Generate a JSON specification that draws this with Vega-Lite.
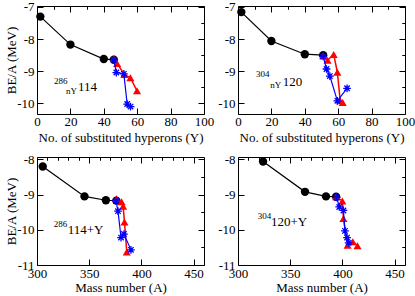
{
  "$schema": "https://vega.github.io/schema/vega-lite/v6.json",
  "padding": {"left": 5, "top": 0, "right": 0, "bottom": 0},
  "background": "white",
  "config": {
    "font": "Liberation Serif",
    "view": {"stroke": "black", "strokeWidth": 1},
    "axis": {"grid": false, "domain": false, "tickColor": "black", "tickSize": 6, "offset": -6, "tickWidth": 1,
      "labelFont": "Liberation Serif", "labelFontSize": 13, "labelColor": "black",
      "titleFont": "Liberation Serif", "titleFontSize": 13, "titleFontWeight": "normal", "titleColor": "black",
      "minExtent": 0, "labelFlush": false, "labelOverlap": false, "labelPadding": 3},
    "axisX": {"minExtent": 0, "labelPadding": 1, "titlePadding": 3},
    "axisY": {"minExtent": 0, "labelPadding": 3, "titlePadding": -2}
  },
  "datasets": {
    "tl": [
      {"s": "black", "i": 1, "x": 2, "y": -7.3},
      {"s": "black", "i": 2, "x": 20, "y": -8.17},
      {"s": "black", "i": 3, "x": 40, "y": -8.62},
      {"s": "black", "i": 4, "x": 46, "y": -8.64},
      {"s": "red", "i": 1, "x": 46, "y": -8.6},
      {"s": "red", "i": 2, "x": 48, "y": -8.76},
      {"s": "red", "i": 3, "x": 52.3, "y": -9.1},
      {"s": "red", "i": 4, "x": 55.9, "y": -9.2},
      {"s": "red", "i": 5, "x": 59.9, "y": -9.61},
      {"s": "blue", "i": 1, "x": 46, "y": -8.65},
      {"s": "blue", "i": 2, "x": 47.5, "y": -9.04},
      {"s": "blue", "i": 3, "x": 52, "y": -9.08},
      {"s": "blue", "i": 4, "x": 54, "y": -10.02},
      {"s": "blue", "i": 5, "x": 56, "y": -10.1}
    ],
    "tr": [
      {"s": "black", "i": 1, "x": 2, "y": -7.16},
      {"s": "black", "i": 2, "x": 20, "y": -8.06},
      {"s": "black", "i": 3, "x": 40, "y": -8.47},
      {"s": "black", "i": 4, "x": 51, "y": -8.5},
      {"s": "red", "i": 1, "x": 51, "y": -8.52},
      {"s": "red", "i": 2, "x": 53.6, "y": -8.66},
      {"s": "red", "i": 3, "x": 57.3, "y": -8.48},
      {"s": "red", "i": 4, "x": 59.5, "y": -9.03},
      {"s": "red", "i": 5, "x": 61.2, "y": -9.92},
      {"s": "red", "i": 6, "x": 62.7, "y": -9.97},
      {"s": "blue", "i": 1, "x": 51, "y": -8.54},
      {"s": "blue", "i": 2, "x": 53, "y": -8.93},
      {"s": "blue", "i": 3, "x": 55, "y": -9.15},
      {"s": "blue", "i": 4, "x": 59.5, "y": -9.92},
      {"s": "blue", "i": 5, "x": 65.3, "y": -9.53}
    ],
    "bl": [
      {"s": "black", "i": 1, "x": 305.5, "y": -8.2},
      {"s": "black", "i": 2, "x": 345.5, "y": -9.05},
      {"s": "black", "i": 3, "x": 366, "y": -9.16},
      {"s": "black", "i": 4, "x": 376, "y": -9.17},
      {"s": "red", "i": 1, "x": 376, "y": -9.12},
      {"s": "red", "i": 2, "x": 381, "y": -9.2},
      {"s": "red", "i": 3, "x": 382.5, "y": -9.33},
      {"s": "red", "i": 4, "x": 383.8, "y": -9.78},
      {"s": "red", "i": 5, "x": 386, "y": -10.63},
      {"s": "blue", "i": 1, "x": 375.7, "y": -9.18},
      {"s": "blue", "i": 2, "x": 377.6, "y": -9.47},
      {"s": "blue", "i": 3, "x": 380.5, "y": -10.22},
      {"s": "blue", "i": 4, "x": 383.3, "y": -10.12},
      {"s": "blue", "i": 5, "x": 390, "y": -10.57}
    ],
    "br": [
      {"s": "black", "i": 1, "x": 324, "y": -8.06},
      {"s": "black", "i": 2, "x": 364.2, "y": -8.92},
      {"s": "black", "i": 3, "x": 384.3, "y": -9.05},
      {"s": "black", "i": 4, "x": 394, "y": -9.06},
      {"s": "red", "i": 1, "x": 394, "y": -9.06},
      {"s": "red", "i": 2, "x": 400, "y": -9.18},
      {"s": "red", "i": 3, "x": 401, "y": -9.68},
      {"s": "red", "i": 4, "x": 405, "y": -10.44},
      {"s": "red", "i": 5, "x": 410, "y": -10.34},
      {"s": "red", "i": 6, "x": 414.5, "y": -10.45},
      {"s": "blue", "i": 1, "x": 394.5, "y": -9.08},
      {"s": "blue", "i": 2, "x": 397, "y": -9.35},
      {"s": "blue", "i": 3, "x": 401, "y": -9.45},
      {"s": "blue", "i": 4, "x": 402.5, "y": -10.03},
      {"s": "blue", "i": 5, "x": 404.5, "y": -10.22},
      {"s": "blue", "i": 6, "x": 406, "y": -10.37}
    ],
    "notes": [
      {"p": "tl", "k": "big", "t": "114", "x": 24.6, "y": -9.61},
      {"p": "tl", "k": "small", "t": "286", "x": 10.2, "y": -9.4},
      {"p": "tl", "k": "small", "t": "nY", "x": 17.4, "y": -9.71},
      {"p": "tr", "k": "big", "t": "120", "x": 26.8, "y": -9.46},
      {"p": "tr", "k": "small", "t": "304", "x": 10.8, "y": -9.18},
      {"p": "tr", "k": "small", "t": "nY", "x": 19.3, "y": -9.52},
      {"p": "bl", "k": "big", "t": "114+Y", "x": 329.4, "y": -10.12},
      {"p": "bl", "k": "small", "t": "286", "x": 316, "y": -9.93},
      {"p": "br", "k": "big", "t": "120+Y", "x": 331.6, "y": -9.9},
      {"p": "br", "k": "small", "t": "304", "x": 318.9, "y": -9.69}
    ]
  },
  "columns": 2,
  "spacing": {"row": 43, "column": 34},
  "bounds": "flush",
  "concat": [
    {
      "width": 167, "height": 108,
      "data": {"name": "tl"},
      "encoding": {
        "x": {"field": "x", "type": "quantitative", "scale": {"domain": [0, 100], "nice": false, "zero": false}, "axis": null},
        "y": {"field": "y", "type": "quantitative", "scale": {"domain": [-10.33, -6.97], "nice": false, "zero": false}, "axis": null}
      },
      "layer": [
        {"mark": {"type": "point", "opacity": 0}, "encoding": {
          "x": {"field": "x", "type": "quantitative", "scale": {"domain": [0, 100], "nice": false, "zero": false}, "axis": {"values": [0, 20, 40, 60, 80, 100], "title": "No. of substituted hyperons (Y)"}},
          "y": {"field": "y", "type": "quantitative", "scale": {"domain": [-10.33, -6.97], "nice": false, "zero": false}, "axis": {"values": [-10, -9, -8, -7], "title": "BE/A (MeV)", "labelExpr": "replace(datum.label, '−', '-')"}}}},
        {"mark": {"type": "point", "opacity": 0}, "encoding": {
          "x": {"field": "x", "type": "quantitative", "scale": {"domain": [0, 100], "nice": false, "zero": false}, "axis": {"values": [10, 30, 50, 70, 90], "labels": false, "tickSize": 3, "offset": -3, "title": null}},
          "y": {"field": "y", "type": "quantitative", "scale": {"domain": [-10.33, -6.97], "nice": false, "zero": false}, "axis": {"values": [-9.5, -8.5, -7.5], "labels": false, "tickSize": 3, "offset": -3, "title": null}}}},
        {"mark": {"type": "point", "opacity": 0}, "encoding": {
          "x": {"field": "x", "type": "quantitative", "scale": {"domain": [0, 100], "nice": false, "zero": false}, "axis": {"orient": "top", "values": [0, 20, 40, 60, 80, 100], "labels": false, "title": null}},
          "y": {"field": "y", "type": "quantitative", "scale": {"domain": [-10.33, -6.97], "nice": false, "zero": false}, "axis": {"orient": "right", "values": [-10, -9, -8, -7], "labels": false, "title": null}}}},
        {"mark": {"type": "point", "opacity": 0}, "encoding": {
          "x": {"field": "x", "type": "quantitative", "scale": {"domain": [0, 100], "nice": false, "zero": false}, "axis": {"orient": "top", "values": [10, 30, 50, 70, 90], "labels": false, "tickSize": 3, "offset": -3, "title": null}},
          "y": {"field": "y", "type": "quantitative", "scale": {"domain": [-10.33, -6.97], "nice": false, "zero": false}, "axis": {"orient": "right", "values": [-9.5, -8.5, -7.5], "labels": false, "tickSize": 3, "offset": -3, "title": null}}}},
        {"transform": [{"filter": "datum.s === 'black'"}], "mark": {"type": "line", "color": "black", "strokeWidth": 1.2}, "encoding": {"order": {"field": "i", "type": "quantitative"}}},
        {"transform": [{"filter": "datum.s === 'black'"}], "mark": {"type": "circle", "color": "black", "size": 70, "opacity": 1}},
        {"transform": [{"filter": "datum.s === 'red'"}], "mark": {"type": "line", "color": "#ff0000", "strokeWidth": 1.5}, "encoding": {"order": {"field": "i", "type": "quantitative"}}},
        {"transform": [{"filter": "datum.s === 'red'"}], "mark": {"type": "point", "shape": "triangle-up", "filled": true, "color": "#ff0000", "size": 65, "opacity": 1}},
        {"transform": [{"filter": "datum.s === 'blue'"}], "mark": {"type": "line", "color": "#0000ff", "strokeWidth": 1.2}, "encoding": {"order": {"field": "i", "type": "quantitative"}}},
        {"transform": [{"filter": "datum.s === 'blue'"}], "mark": {"type": "point", "shape": "M-1,0L1,0M0,-1L0,1M-0.7,-0.7L0.7,0.7M-0.7,0.7L0.7,-0.7", "filled": false, "color": "#0000ff", "strokeWidth": 1.3, "size": 60, "opacity": 1}},
        {"data": {"name": "notes"}, "transform": [{"filter": "datum.p === 'tl' && datum.k === 'big'"}], "mark": {"type": "text", "align": "left", "baseline": "alphabetic", "fontSize": 13, "color": "black", "font": "Liberation Serif"}, "encoding": {"text": {"field": "t"}}},
        {"data": {"name": "notes"}, "transform": [{"filter": "datum.p === 'tl' && datum.k === 'small'"}], "mark": {"type": "text", "align": "left", "baseline": "alphabetic", "fontSize": 9, "color": "black", "font": "Liberation Serif"}, "encoding": {"text": {"field": "t"}}}
      ],
      "resolve": {"axis": {"x": "independent", "y": "independent"}}
    },
    {
      "width": 167, "height": 108,
      "data": {"name": "tr"},
      "encoding": {
        "x": {"field": "x", "type": "quantitative", "scale": {"domain": [0, 100], "nice": false, "zero": false}, "axis": null},
        "y": {"field": "y", "type": "quantitative", "scale": {"domain": [-10.33, -6.97], "nice": false, "zero": false}, "axis": null}
      },
      "layer": [
        {"mark": {"type": "point", "opacity": 0}, "encoding": {
          "x": {"field": "x", "type": "quantitative", "scale": {"domain": [0, 100], "nice": false, "zero": false}, "axis": {"values": [0, 20, 40, 60, 80, 100], "title": "No. of substituted hyperons (Y)"}},
          "y": {"field": "y", "type": "quantitative", "scale": {"domain": [-10.33, -6.97], "nice": false, "zero": false}, "axis": {"values": [-10, -9, -8, -7], "title": null, "labelExpr": "replace(datum.label, '−', '-')"}}}},
        {"mark": {"type": "point", "opacity": 0}, "encoding": {
          "x": {"field": "x", "type": "quantitative", "scale": {"domain": [0, 100], "nice": false, "zero": false}, "axis": {"values": [10, 30, 50, 70, 90], "labels": false, "tickSize": 3, "offset": -3, "title": null}},
          "y": {"field": "y", "type": "quantitative", "scale": {"domain": [-10.33, -6.97], "nice": false, "zero": false}, "axis": {"values": [-9.5, -8.5, -7.5], "labels": false, "tickSize": 3, "offset": -3, "title": null}}}},
        {"mark": {"type": "point", "opacity": 0}, "encoding": {
          "x": {"field": "x", "type": "quantitative", "scale": {"domain": [0, 100], "nice": false, "zero": false}, "axis": {"orient": "top", "values": [0, 20, 40, 60, 80, 100], "labels": false, "title": null}},
          "y": {"field": "y", "type": "quantitative", "scale": {"domain": [-10.33, -6.97], "nice": false, "zero": false}, "axis": {"orient": "right", "values": [-10, -9, -8, -7], "labels": false, "title": null}}}},
        {"mark": {"type": "point", "opacity": 0}, "encoding": {
          "x": {"field": "x", "type": "quantitative", "scale": {"domain": [0, 100], "nice": false, "zero": false}, "axis": {"orient": "top", "values": [10, 30, 50, 70, 90], "labels": false, "tickSize": 3, "offset": -3, "title": null}},
          "y": {"field": "y", "type": "quantitative", "scale": {"domain": [-10.33, -6.97], "nice": false, "zero": false}, "axis": {"orient": "right", "values": [-9.5, -8.5, -7.5], "labels": false, "tickSize": 3, "offset": -3, "title": null}}}},
        {"transform": [{"filter": "datum.s === 'black'"}], "mark": {"type": "line", "color": "black", "strokeWidth": 1.2}, "encoding": {"order": {"field": "i", "type": "quantitative"}}},
        {"transform": [{"filter": "datum.s === 'black'"}], "mark": {"type": "circle", "color": "black", "size": 70, "opacity": 1}},
        {"transform": [{"filter": "datum.s === 'red'"}], "mark": {"type": "line", "color": "#ff0000", "strokeWidth": 1.5}, "encoding": {"order": {"field": "i", "type": "quantitative"}}},
        {"transform": [{"filter": "datum.s === 'red'"}], "mark": {"type": "point", "shape": "triangle-up", "filled": true, "color": "#ff0000", "size": 65, "opacity": 1}},
        {"transform": [{"filter": "datum.s === 'blue'"}], "mark": {"type": "line", "color": "#0000ff", "strokeWidth": 1.2}, "encoding": {"order": {"field": "i", "type": "quantitative"}}},
        {"transform": [{"filter": "datum.s === 'blue'"}], "mark": {"type": "point", "shape": "M-1,0L1,0M0,-1L0,1M-0.7,-0.7L0.7,0.7M-0.7,0.7L0.7,-0.7", "filled": false, "color": "#0000ff", "strokeWidth": 1.3, "size": 60, "opacity": 1}},
        {"data": {"name": "notes"}, "transform": [{"filter": "datum.p === 'tr' && datum.k === 'big'"}], "mark": {"type": "text", "align": "left", "baseline": "alphabetic", "fontSize": 13, "color": "black", "font": "Liberation Serif"}, "encoding": {"text": {"field": "t"}}},
        {"data": {"name": "notes"}, "transform": [{"filter": "datum.p === 'tr' && datum.k === 'small'"}], "mark": {"type": "text", "align": "left", "baseline": "alphabetic", "fontSize": 9, "color": "black", "font": "Liberation Serif"}, "encoding": {"text": {"field": "t"}}}
      ],
      "resolve": {"axis": {"x": "independent", "y": "independent"}}
    },
    {
      "width": 167, "height": 108,
      "data": {"name": "bl"},
      "encoding": {
        "x": {"field": "x", "type": "quantitative", "scale": {"domain": [300, 460], "nice": false, "zero": false}, "axis": null},
        "y": {"field": "y", "type": "quantitative", "scale": {"domain": [-11, -7.93], "nice": false, "zero": false}, "axis": null}
      },
      "layer": [
        {"mark": {"type": "point", "opacity": 0}, "encoding": {
          "x": {"field": "x", "type": "quantitative", "scale": {"domain": [300, 460], "nice": false, "zero": false}, "axis": {"values": [300, 350, 400, 450], "title": "Mass number (A)", "labelPadding": 2, "titlePadding": 1.5}},
          "y": {"field": "y", "type": "quantitative", "scale": {"domain": [-11, -7.93], "nice": false, "zero": false}, "axis": {"values": [-11, -10, -9, -8], "title": "BE/A (MeV)", "labelExpr": "replace(datum.label, '−', '-')"}}}},
        {"mark": {"type": "point", "opacity": 0}, "encoding": {
          "x": {"field": "x", "type": "quantitative", "scale": {"domain": [300, 460], "nice": false, "zero": false}, "axis": {"values": [310, 320, 330, 340, 360, 370, 380, 390, 410, 420, 430, 440], "labels": false, "tickSize": 3, "offset": -3, "title": null}},
          "y": {"field": "y", "type": "quantitative", "scale": {"domain": [-11, -7.93], "nice": false, "zero": false}, "axis": {"values": [-10.5, -9.5, -8.5], "labels": false, "tickSize": 3, "offset": -3, "title": null}}}},
        {"mark": {"type": "point", "opacity": 0}, "encoding": {
          "x": {"field": "x", "type": "quantitative", "scale": {"domain": [300, 460], "nice": false, "zero": false}, "axis": {"orient": "top", "values": [300, 350, 400, 450], "labels": false, "title": null}},
          "y": {"field": "y", "type": "quantitative", "scale": {"domain": [-11, -7.93], "nice": false, "zero": false}, "axis": {"orient": "right", "values": [-11, -10, -9, -8], "labels": false, "title": null}}}},
        {"mark": {"type": "point", "opacity": 0}, "encoding": {
          "x": {"field": "x", "type": "quantitative", "scale": {"domain": [300, 460], "nice": false, "zero": false}, "axis": {"orient": "top", "values": [310, 320, 330, 340, 360, 370, 380, 390, 410, 420, 430, 440], "labels": false, "tickSize": 3, "offset": -3, "title": null}},
          "y": {"field": "y", "type": "quantitative", "scale": {"domain": [-11, -7.93], "nice": false, "zero": false}, "axis": {"orient": "right", "values": [-10.5, -9.5, -8.5], "labels": false, "tickSize": 3, "offset": -3, "title": null}}}},
        {"transform": [{"filter": "datum.s === 'black'"}], "mark": {"type": "line", "color": "black", "strokeWidth": 1.2}, "encoding": {"order": {"field": "i", "type": "quantitative"}}},
        {"transform": [{"filter": "datum.s === 'black'"}], "mark": {"type": "circle", "color": "black", "size": 70, "opacity": 1}},
        {"transform": [{"filter": "datum.s === 'red'"}], "mark": {"type": "line", "color": "#ff0000", "strokeWidth": 1.5}, "encoding": {"order": {"field": "i", "type": "quantitative"}}},
        {"transform": [{"filter": "datum.s === 'red'"}], "mark": {"type": "point", "shape": "triangle-up", "filled": true, "color": "#ff0000", "size": 65, "opacity": 1}},
        {"transform": [{"filter": "datum.s === 'blue'"}], "mark": {"type": "line", "color": "#0000ff", "strokeWidth": 1.2}, "encoding": {"order": {"field": "i", "type": "quantitative"}}},
        {"transform": [{"filter": "datum.s === 'blue'"}], "mark": {"type": "point", "shape": "M-1,0L1,0M0,-1L0,1M-0.7,-0.7L0.7,0.7M-0.7,0.7L0.7,-0.7", "filled": false, "color": "#0000ff", "strokeWidth": 1.3, "size": 60, "opacity": 1}},
        {"data": {"name": "notes"}, "transform": [{"filter": "datum.p === 'bl' && datum.k === 'big'"}], "mark": {"type": "text", "align": "left", "baseline": "alphabetic", "fontSize": 13, "color": "black", "font": "Liberation Serif"}, "encoding": {"text": {"field": "t"}}},
        {"data": {"name": "notes"}, "transform": [{"filter": "datum.p === 'bl' && datum.k === 'small'"}], "mark": {"type": "text", "align": "left", "baseline": "alphabetic", "fontSize": 9, "color": "black", "font": "Liberation Serif"}, "encoding": {"text": {"field": "t"}}}
      ],
      "resolve": {"axis": {"x": "independent", "y": "independent"}}
    },
    {
      "width": 167, "height": 108,
      "data": {"name": "br"},
      "encoding": {
        "x": {"field": "x", "type": "quantitative", "scale": {"domain": [300, 460], "nice": false, "zero": false}, "axis": null},
        "y": {"field": "y", "type": "quantitative", "scale": {"domain": [-11, -7.93], "nice": false, "zero": false}, "axis": null}
      },
      "layer": [
        {"mark": {"type": "point", "opacity": 0}, "encoding": {
          "x": {"field": "x", "type": "quantitative", "scale": {"domain": [300, 460], "nice": false, "zero": false}, "axis": {"values": [300, 350, 400, 450], "title": "Mass number (A)", "labelPadding": 2, "titlePadding": 1.5}},
          "y": {"field": "y", "type": "quantitative", "scale": {"domain": [-11, -7.93], "nice": false, "zero": false}, "axis": {"values": [-11, -10, -9, -8], "title": null, "labelExpr": "replace(datum.label, '−', '-')"}}}},
        {"mark": {"type": "point", "opacity": 0}, "encoding": {
          "x": {"field": "x", "type": "quantitative", "scale": {"domain": [300, 460], "nice": false, "zero": false}, "axis": {"values": [310, 320, 330, 340, 360, 370, 380, 390, 410, 420, 430, 440], "labels": false, "tickSize": 3, "offset": -3, "title": null}},
          "y": {"field": "y", "type": "quantitative", "scale": {"domain": [-11, -7.93], "nice": false, "zero": false}, "axis": {"values": [-10.5, -9.5, -8.5], "labels": false, "tickSize": 3, "offset": -3, "title": null}}}},
        {"mark": {"type": "point", "opacity": 0}, "encoding": {
          "x": {"field": "x", "type": "quantitative", "scale": {"domain": [300, 460], "nice": false, "zero": false}, "axis": {"orient": "top", "values": [300, 350, 400, 450], "labels": false, "title": null}},
          "y": {"field": "y", "type": "quantitative", "scale": {"domain": [-11, -7.93], "nice": false, "zero": false}, "axis": {"orient": "right", "values": [-11, -10, -9, -8], "labels": false, "title": null}}}},
        {"mark": {"type": "point", "opacity": 0}, "encoding": {
          "x": {"field": "x", "type": "quantitative", "scale": {"domain": [300, 460], "nice": false, "zero": false}, "axis": {"orient": "top", "values": [310, 320, 330, 340, 360, 370, 380, 390, 410, 420, 430, 440], "labels": false, "tickSize": 3, "offset": -3, "title": null}},
          "y": {"field": "y", "type": "quantitative", "scale": {"domain": [-11, -7.93], "nice": false, "zero": false}, "axis": {"orient": "right", "values": [-10.5, -9.5, -8.5], "labels": false, "tickSize": 3, "offset": -3, "title": null}}}},
        {"transform": [{"filter": "datum.s === 'black'"}], "mark": {"type": "line", "color": "black", "strokeWidth": 1.2}, "encoding": {"order": {"field": "i", "type": "quantitative"}}},
        {"transform": [{"filter": "datum.s === 'black'"}], "mark": {"type": "circle", "color": "black", "size": 70, "opacity": 1}},
        {"transform": [{"filter": "datum.s === 'red'"}], "mark": {"type": "line", "color": "#ff0000", "strokeWidth": 1.5}, "encoding": {"order": {"field": "i", "type": "quantitative"}}},
        {"transform": [{"filter": "datum.s === 'red'"}], "mark": {"type": "point", "shape": "triangle-up", "filled": true, "color": "#ff0000", "size": 65, "opacity": 1}},
        {"transform": [{"filter": "datum.s === 'blue'"}], "mark": {"type": "line", "color": "#0000ff", "strokeWidth": 1.2}, "encoding": {"order": {"field": "i", "type": "quantitative"}}},
        {"transform": [{"filter": "datum.s === 'blue'"}], "mark": {"type": "point", "shape": "M-1,0L1,0M0,-1L0,1M-0.7,-0.7L0.7,0.7M-0.7,0.7L0.7,-0.7", "filled": false, "color": "#0000ff", "strokeWidth": 1.3, "size": 60, "opacity": 1}},
        {"data": {"name": "notes"}, "transform": [{"filter": "datum.p === 'br' && datum.k === 'big'"}], "mark": {"type": "text", "align": "left", "baseline": "alphabetic", "fontSize": 13, "color": "black", "font": "Liberation Serif"}, "encoding": {"text": {"field": "t"}}},
        {"data": {"name": "notes"}, "transform": [{"filter": "datum.p === 'br' && datum.k === 'small'"}], "mark": {"type": "text", "align": "left", "baseline": "alphabetic", "fontSize": 9, "color": "black", "font": "Liberation Serif"}, "encoding": {"text": {"field": "t"}}}
      ],
      "resolve": {"axis": {"x": "independent", "y": "independent"}}
    }
  ]
}
